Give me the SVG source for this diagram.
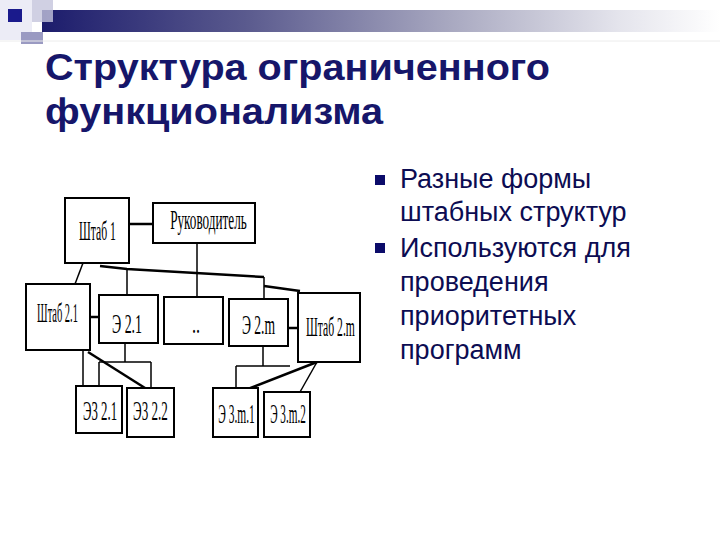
<svg xmlns="http://www.w3.org/2000/svg" width="720" height="540" viewBox="0 0 720 540">
<defs>
<linearGradient id="bar" x1="0" y1="0" x2="1" y2="0">
<stop offset="0" stop-color="#1c1c6c"/>
<stop offset="0.3" stop-color="#5a5a8e"/>
<stop offset="0.6" stop-color="#a8a8c0"/>
<stop offset="0.85" stop-color="#e4e4ec"/>
<stop offset="1" stop-color="#ffffff"/>
</linearGradient>
<style>
.title{font-family:"Liberation Sans",Arial,sans-serif;font-weight:bold;font-size:37px;fill:#16166a}
.bul{font-family:"Liberation Sans",Arial,sans-serif;font-size:27px;fill:#0c0c52}
.box{fill:#ffffff;stroke:#000000;stroke-width:2}
.lbl{font-family:"Liberation Serif","Times New Roman",serif;font-size:27px;fill:#000000;text-anchor:middle}
.ln{stroke:#000000;stroke-width:1.5;fill:none}
.lt{stroke:#000000;stroke-width:2.5;fill:none}
</style>
</defs>
<rect x="0" y="0" width="720" height="540" fill="#ffffff"/>
<g id="header">
<rect x="0" y="0" width="32" height="40" fill="#ececf6"/>
<rect x="42" y="10" width="678" height="22" fill="url(#bar)"/>
<rect x="32" y="0" width="21" height="22" fill="#c4c4dc" fill-opacity="0.8"/>
<rect x="21" y="32" width="22" height="12" fill="#9a9ac2"/>
<rect x="8" y="9" width="14" height="13" fill="#1a1a8c"/>
<line x1="0" y1="41" x2="720" y2="41" stroke="#ececec" stroke-width="1"/>
</g>
<g id="title">
<text class="title" x="45" y="80" textLength="505" lengthAdjust="spacingAndGlyphs">Структура ограниченного</text>
<text class="title" x="45" y="124" textLength="338" lengthAdjust="spacingAndGlyphs">функционализма</text>
</g>
<g id="bullets">
<rect x="375" y="175" width="10" height="10" fill="#0c0c6a"/>
<rect x="375" y="243" width="10" height="10" fill="#0c0c6a"/>
<text class="bul" x="400" y="188">Разные формы</text>
<text class="bul" x="400" y="221">штабных структур</text>
<text class="bul" x="400" y="257">Используются для</text>
<text class="bul" x="400" y="291">проведения</text>
<text class="bul" x="400" y="325">приоритетных</text>
<text class="bul" x="400" y="359">программ</text>
</g>
<g id="connectors">
<line class="lt" x1="129" y1="224" x2="153" y2="224"/>
<line class="ln" x1="197" y1="243" x2="197" y2="297"/>
<polyline class="lt" points="100,266 127,269 264,277"/>
<polyline class="lt" points="264,286 300,291"/>
<line class="ln" x1="127" y1="269" x2="127" y2="295"/>
<line class="ln" x1="264" y1="277" x2="264" y2="299"/>
<line class="ln" x1="83" y1="263" x2="75" y2="284"/>
<line class="lt" x1="90" y1="317" x2="99" y2="317"/>
<line class="lt" x1="289" y1="328" x2="297" y2="328"/>
<line class="ln" x1="83" y1="350" x2="83" y2="386"/>
<line class="lt" x1="88" y1="352" x2="145" y2="388"/>
<line class="ln" x1="125" y1="343" x2="125" y2="362"/>
<line class="ln" x1="99" y1="362" x2="151" y2="362"/>
<line class="ln" x1="99" y1="362" x2="99" y2="386"/>
<line class="ln" x1="151" y1="362" x2="151" y2="388"/>
<line class="ln" x1="263" y1="346" x2="263" y2="366"/>
<line class="ln" x1="236" y1="366" x2="290" y2="366"/>
<line class="ln" x1="236" y1="366" x2="236" y2="388"/>
<line class="lt" x1="317" y1="362" x2="248" y2="389"/>
<line class="ln" x1="317" y1="362" x2="300" y2="392"/>
</g>
<g id="n-shtab1"><rect class="box" x="65" y="198" width="64" height="65"/><text class="lbl" transform="translate(97.5,240) scale(0.45,1)" textLength="82" lengthAdjust="spacingAndGlyphs">Штаб 1</text></g>
<g id="n-ruk"><rect class="box" x="153" y="203" width="102" height="40"/><text class="lbl" transform="translate(208.5,229) scale(0.59,1)" font-size="22" textLength="130" lengthAdjust="spacingAndGlyphs">Руководитель</text></g>
<g id="n-shtab21"><rect class="box" x="26" y="284" width="64" height="66"/><text class="lbl" transform="translate(57.5,322) scale(0.4,1)" textLength="102" lengthAdjust="spacingAndGlyphs">Штаб 2.1</text></g>
<g id="n-e21"><rect class="box" x="99" y="295" width="59" height="48"/><text class="lbl" transform="translate(127,333) scale(0.52,1)" textLength="58" lengthAdjust="spacingAndGlyphs">Э 2.1</text></g>
<g id="n-dots"><rect class="box" x="164" y="297" width="59" height="47"/><text class="lbl" transform="translate(196,333) scale(0.6,1)">..</text></g>
<g id="n-e2m"><rect class="box" x="229" y="299" width="59" height="47"/><text class="lbl" transform="translate(258.5,334) scale(0.51,1)" textLength="65" lengthAdjust="spacingAndGlyphs">Э 2.m</text></g>
<g id="n-shtab2m"><rect class="box" x="298" y="293" width="62" height="69"/><text class="lbl" transform="translate(330.5,336) scale(0.44,1)" textLength="111" lengthAdjust="spacingAndGlyphs">Штаб 2.m</text></g>
<g id="n-e321"><rect class="box" x="76" y="386" width="46" height="47"/><text class="lbl" transform="translate(100,420) scale(0.48,1)" textLength="71" lengthAdjust="spacingAndGlyphs">Э3 2.1</text></g>
<g id="n-e322"><rect class="box" x="127" y="388" width="47" height="49"/><text class="lbl" transform="translate(150.5,420) scale(0.49,1)" textLength="71" lengthAdjust="spacingAndGlyphs">Э3 2.2</text></g>
<g id="n-e3m1"><rect class="box" x="213" y="388" width="45" height="49"/><text class="lbl" transform="translate(236.5,423) scale(0.43,1)" textLength="85" lengthAdjust="spacingAndGlyphs">Э 3.m.1</text></g>
<g id="n-e3m2"><rect class="box" x="264" y="392" width="46" height="45"/><text class="lbl" transform="translate(288,423) scale(0.42,1)" textLength="85" lengthAdjust="spacingAndGlyphs">Э 3.m.2</text></g>
</svg>
